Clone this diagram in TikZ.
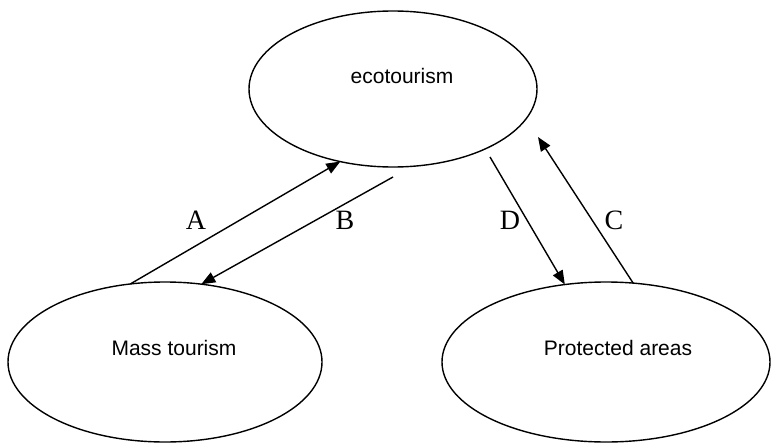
\documentclass[tikz,border=0pt]{standalone}
\usepackage{fontspec}
\setmainfont{Liberation Serif}
\newfontfamily\arialf{Liberation Sans}
\usetikzlibrary{shapes.geometric,arrows.meta}
\begin{document}
\begin{tikzpicture}[x=1pt,y=-1pt,
  bubble/.style={draw,ellipse,line width=1.4pt,inner sep=0pt,outer sep=0pt},
  txt/.style={font=\arialf\fontsize{21}{25}\selectfont,anchor=base,inner sep=0pt},
  lbl/.style={font=\fontsize{28}{32}\selectfont,anchor=base,inner sep=0pt},
  conn/.style={line width=1.4pt,-{Triangle[length=14pt,width=11pt]}}]
\useasboundingbox (0,0) rectangle (771,444);
\node[bubble,minimum width=288pt,minimum height=156pt] (eco) at (393,89) {};
\node[bubble,minimum width=314pt,minimum height=160pt] (mass) at (165,362) {};
\node[bubble,minimum width=328pt,minimum height=160pt] (prot) at (606,362) {};
\node[txt] (ecot) at (402,83) {ecotourism};
\node[txt] (masst) at (174,355) {Mass tourism};
\node[txt] (prott) at (618,355) {Protected areas};
\coordinate (bstart) at (393,177);
\coordinate (dstart) at (490,157);
\coordinate (ctip) at (538,137);
\draw[conn] (mass.114.5) -- (eco.234);
\draw[conn] (bstart) -- (mass.65);
\draw[conn] (dstart) -- (prot.118.8);
\draw[conn] (prot.71.4) -- (ctip);
\node[lbl] (la) at (196,229) {A};
\node[lbl] (lb) at (345,229) {B};
\node[lbl] (ld) at (510,229) {D};
\node[lbl] (lc) at (614,229) {C};
\end{tikzpicture}
\end{document}
